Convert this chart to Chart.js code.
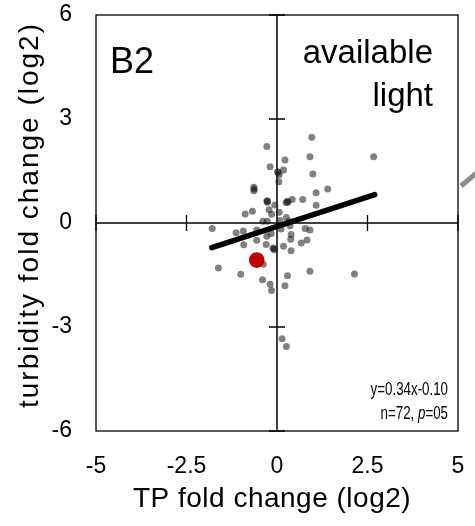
<!DOCTYPE html>
<html>
<head>
<meta charset="utf-8">
<script src="https://cdn.jsdelivr.net/npm/chart.js@4/dist/chart.umd.min.js"></script>
<style>
  html, body { margin: 0; padding: 0; background: #ffffff; }
  canvas { display: block; }
</style>
</head>
<body>
<canvas id="chart" width="475" height="526"></canvas>
<script>
// Fold changes (log2) per site: total phosphorus vs turbidity
const tpChange = [
  0.96, -0.28, 0.22, 0.91, 2.67, -0.19, 0.02, 0.18, 0.06, 0.99,
  0.05, -0.64, -0.64, 1.40, 1.08, -0.28, -0.27, -0.06, 0.25, 0.29,
  0.42, 0.71, 1.08, -0.68, -0.88, -0.22, -0.15, 0.06, 0.26, -0.39,
  -0.27, -1.79, -0.93, -1.13, -0.56, 0.11, 0.36, 0.78, 0.91, -0.16,
  0.39, -0.28, 0.38, -0.56, -0.92, -0.30, -0.11, -0.07, 0.18, 0.83,
  0.67, 0.39, -0.38, -1.62, -1.00, 0.29, 0.91, 2.14, -0.40, -0.19,
  -0.15, 0.22, 0.14, 0.26, 0.08, 0.33, -0.26, 0.30, -0.09, 0.03,
  -0.63
];
const turbidityChange = [
  2.47, 2.21, 1.82, 1.91, 1.91, 1.62, 1.48, 1.53, 1.39, 1.41,
  1.19, 1.03, 0.93, 0.98, 0.87, 0.64, 0.60, 0.52, 0.59, 0.63,
  0.68, 0.68, 0.51, 0.34, 0.26, 0.38, 0.25, 0.31, 0.16, 0.05,
  0.05, -0.16, -0.23, -0.28, -0.20, -0.17, -0.08, -0.16, -0.20, -0.30,
  -0.33, -0.38, -0.47, -0.50, -0.63, -0.62, -0.72, -0.77, -0.67, -0.49,
  -0.58, -0.80, -1.19, -1.30, -1.48, -1.52, -1.39, -1.47, -1.64, -1.77,
  -1.95, -1.81, -3.34, -3.56, 0.07, 0.04, 0.63, 0.60, -0.74, 1.46,
  0.98
];
// Mean response (highlighted)
const meanTp = [-0.56];
const meanTurbidity = [-1.07];

// Linear fit y = slope * x + intercept over the observed TP range
const fitSlope = 0.34;
const fitIntercept = -0.10;
const fitXRange = [-1.8, 2.7];
const fitCount = 72;

const xTickValues = [-5, -2.5, 0, 2.5, 5];
const yTickValues = [-6, -3, 0, 3, 6];

const panelLabel = 'B2';
const panelNote = ['available', 'light'];
const xTitle = 'TP fold change (log2)';
const yTitle = 'turbidity fold change (log2)';

const scatterPoints = tpChange.map((x, i) => ({ x: x, y: turbidityChange[i] }));
const meanPoints = meanTp.map((x, i) => ({ x: x, y: meanTurbidity[i] }));
const fitPoints = fitXRange.map(x => ({ x: x, y: fitSlope * x + fitIntercept }));

const FONT = "'Liberation Sans', Arial, sans-serif";

function noEdgePadding(s) {
  s.paddingTop = 0; s.paddingBottom = 0; s.paddingLeft = 0; s.paddingRight = 0;
}

// Frame, crossing zero axes with cross ticks, titles, panel text and fit statistics
const framePlugin = {
  id: 'frame',
  beforeDatasetsDraw(chart) {
    const { ctx, chartArea: a, scales: { x, y } } = chart;
    const x0 = x.getPixelForValue(0);
    const y0 = y.getPixelForValue(0);
    ctx.save();
    ctx.strokeStyle = '#000000';
    ctx.lineWidth = 1.3;
    ctx.strokeRect(a.left, a.top, a.right - a.left, a.bottom - a.top);
    ctx.lineWidth = 1.5;
    ctx.beginPath();
    ctx.moveTo(a.left, y0); ctx.lineTo(a.right, y0);
    ctx.moveTo(x0, a.top); ctx.lineTo(x0, a.bottom);
    ctx.stroke();
    ctx.lineWidth = 1.3;
    ctx.beginPath();
    xTickValues.filter(v => v !== 0).forEach(v => {
      const px = x.getPixelForValue(v);
      ctx.moveTo(px, y0 - 8); ctx.lineTo(px, y0 + 8);
    });
    yTickValues.filter(v => v !== 0).forEach(v => {
      const py = y.getPixelForValue(v);
      ctx.moveTo(x0 - 8, py); ctx.lineTo(x0 + 8, py);
    });
    ctx.stroke();
    ctx.restore();
  },
  afterDraw(chart) {
    const { ctx, chartArea: a } = chart;
    const midY = (a.top + a.bottom) / 2;
    const midX = (a.left + a.right) / 2;
    ctx.save();
    ctx.fillStyle = '#000000';

    // axis titles
    ctx.textAlign = 'center';
    ctx.textBaseline = 'middle';
    ctx.font = '28px ' + FONT;
    ctx.letterSpacing = '0.5px';
    ctx.fillText(xTitle, midX - 5, a.bottom + 68);
    ctx.save();
    ctx.translate(30, midY - 8);
    ctx.rotate(-Math.PI / 2);
    ctx.font = '28px ' + FONT;
    ctx.letterSpacing = '2px';
    ctx.fillText(yTitle, 0, 0);
    ctx.restore();
    ctx.letterSpacing = '0px';

    ctx.textBaseline = 'alphabetic';
    ctx.font = '36px ' + FONT;
    ctx.textAlign = 'left';
    ctx.fillText(panelLabel, a.left + 14, a.top + 58);
    ctx.font = '33px ' + FONT;
    ctx.textAlign = 'right';
    ctx.fillText(panelNote[0], a.right - 25, a.top + 48);
    ctx.fillText(panelNote[1], a.right - 25, a.top + 91);

    // fit statistics, condensed type
    const sx = 0.74;
    const rightX = (a.right - 10) / sx;
    ctx.save();
    ctx.scale(sx, 1);
    ctx.font = '18px ' + FONT;
    ctx.textAlign = 'right';
    const eq = 'y=' + fitSlope.toFixed(2) + 'x' + (fitIntercept < 0 ? '-' : '+') + Math.abs(fitIntercept).toFixed(2);
    ctx.fillText(eq, rightX, a.top + 380);
    const tail = '=05';
    ctx.fillText(tail, rightX, a.top + 404);
    let w = ctx.measureText(tail).width;
    ctx.font = 'italic 18px ' + FONT;
    ctx.fillText('p', rightX - w, a.top + 404);
    w += ctx.measureText('p').width;
    ctx.font = '18px ' + FONT;
    ctx.fillText('n=' + fitCount + ', ', rightX - w, a.top + 404);
    ctx.restore();

    // connector toward the adjacent panel
    ctx.strokeStyle = '#8c8c8c';
    ctx.lineWidth = 5;
    ctx.beginPath();
    ctx.moveTo(a.right + 3, a.top + 171);
    ctx.lineTo(a.right + 22, a.top + 155);
    ctx.stroke();
    ctx.restore();
  }
};

new Chart(document.getElementById('chart'), {
  type: 'scatter',
  data: {
    datasets: [
      {
        label: 'fit',
        type: 'line',
        data: fitPoints,
        borderColor: '#000000',
        borderWidth: 5.5,
        borderCapStyle: 'round',
        pointRadius: 0,
        fill: false,
        order: 1
      },
      {
        label: 'mean',
        data: meanPoints,
        backgroundColor: '#c00000',
        borderWidth: 0,
        pointRadius: 7.8,
        order: 2
      },
      {
        label: 'sites',
        data: scatterPoints,
        backgroundColor: 'rgba(25,25,25,0.55)',
        borderWidth: 0,
        pointRadius: 3.5,
        order: 3
      }
    ]
  },
  options: {
    responsive: false,
    animation: false,
    devicePixelRatio: 1,
    layout: { autoPadding: false, padding: { top: 15, right: 17, left: 0, bottom: 0 } },
    plugins: { legend: { display: false }, tooltip: { enabled: false } },
    scales: {
      x: {
        type: 'linear',
        min: -5,
        max: 5,
        afterBuildTicks: s => { s.ticks = xTickValues.map(v => ({ value: v })); },
        afterFit: s => { s.height = 95; noEdgePadding(s); },
        grid: { display: false, drawTicks: false },
        border: { display: false },
        ticks: {
          color: '#000000',
          font: { family: FONT, size: 23 },
          padding: 22,
          maxRotation: 0,
          callback: v => String(v)
        },
        title: { display: false }
      },
      y: {
        type: 'linear',
        min: -6,
        max: 6,
        afterBuildTicks: s => { s.ticks = yTickValues.map(v => ({ value: v })); },
        afterFit: s => { s.width = 96; noEdgePadding(s); },
        grid: { display: false, drawTicks: false },
        border: { display: false },
        ticks: {
          color: '#000000',
          font: { family: FONT, size: 23 },
          padding: 24,
          callback: v => String(v)
        },
        title: { display: false }
      }
    }
  },
  plugins: [framePlugin]
});
</script>
</body>
</html>
